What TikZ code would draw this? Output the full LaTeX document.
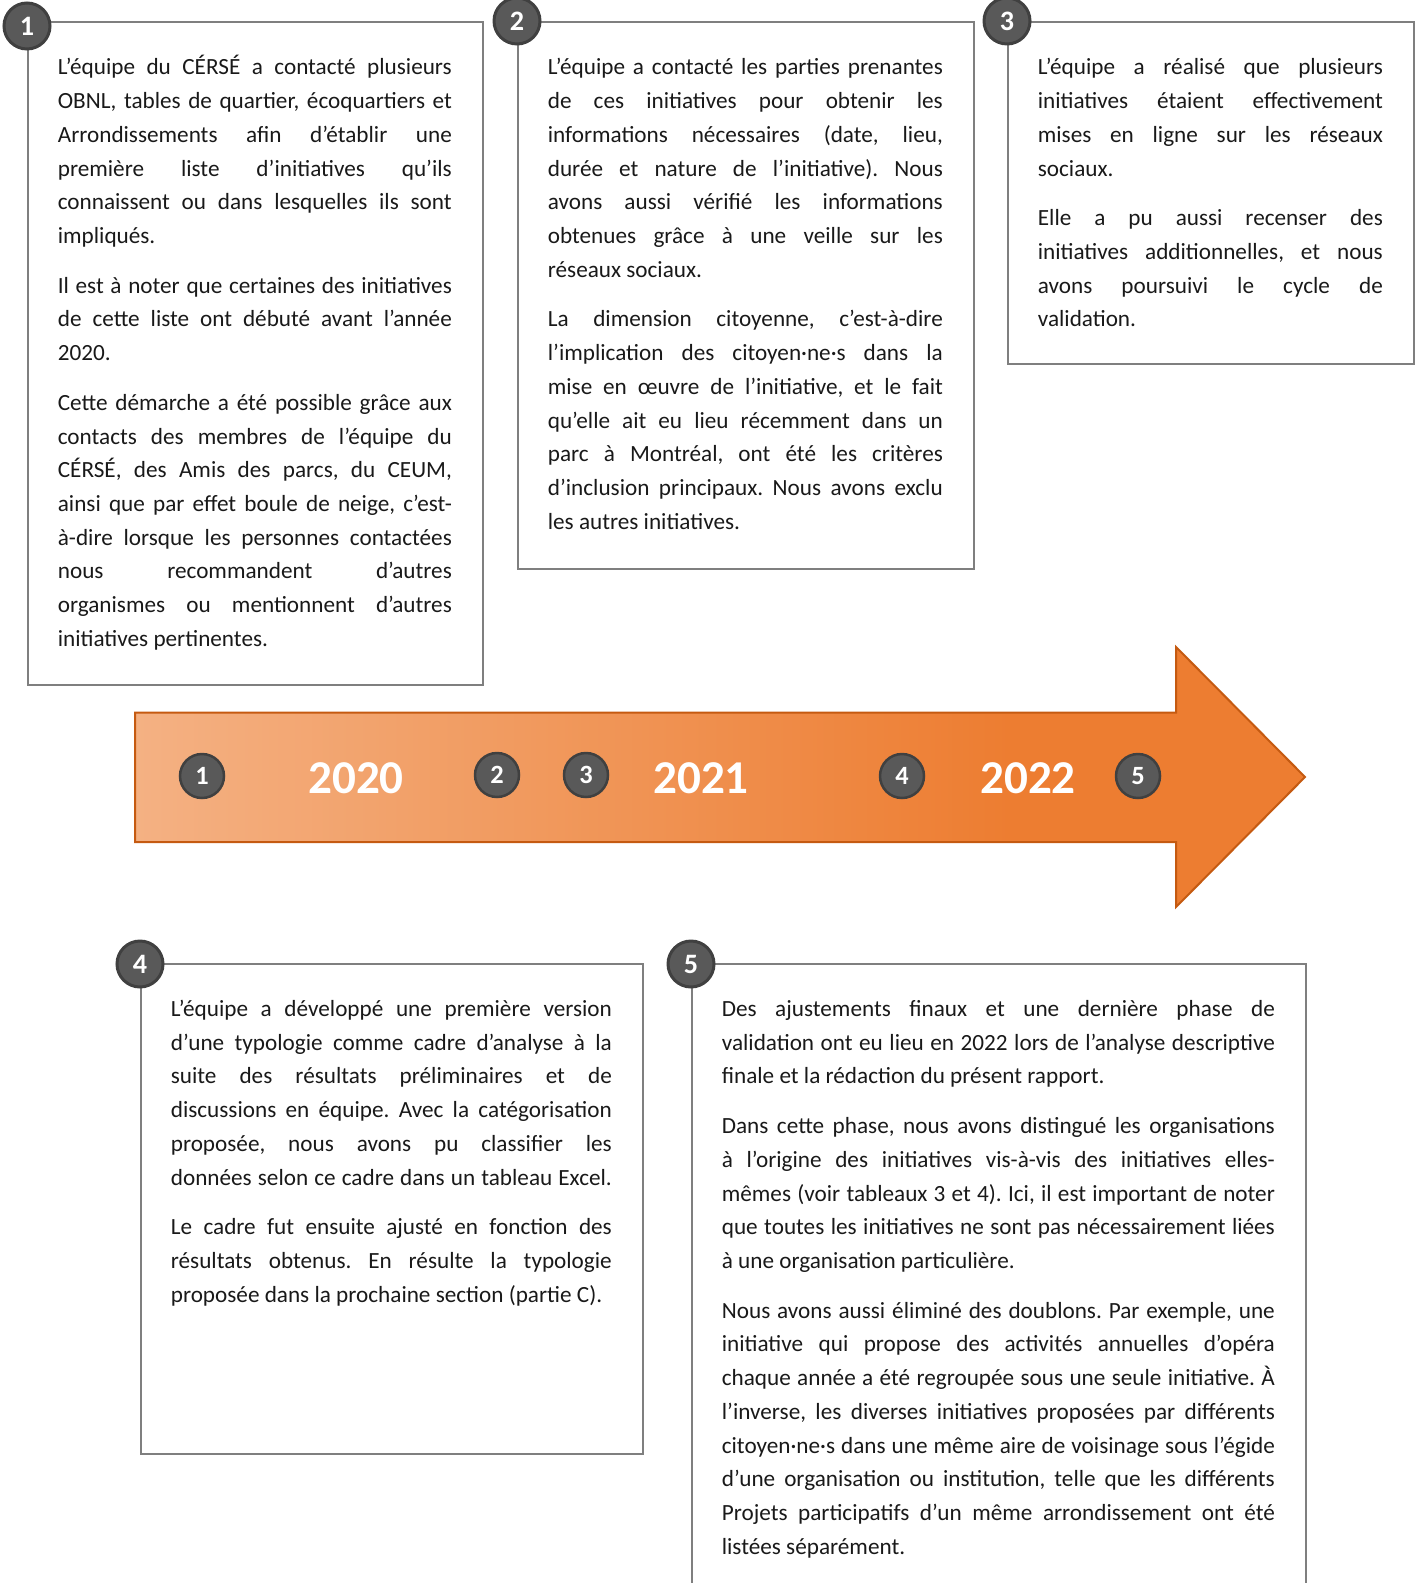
\documentclass[tikz,border=0pt]{standalone}
\usepackage{fontspec}
\setmainfont{Carlito}
\definecolor{boxgray}{HTML}{7F7F7F}
\definecolor{badgefill}{HTML}{595959}
\definecolor{badgeline}{HTML}{404040}
\definecolor{orangelight}{HTML}{F4B183}
\definecolor{orangemain}{HTML}{ED7D31}
\definecolor{orangedark}{HTML}{C55A11}
\newdimen\pxu \pxu=0.2mm
\tolerance=10000 \hbadness=10000 \hyphenpenalty=10000 \exhyphenpenalty=10000
\frenchspacing
\begin{document}
\begin{tikzpicture}[x=0.2mm,y=-0.2mm,
	frame/.style={draw=boxgray,line width=2\pxu,anchor=north west,inner sep=0pt},
	para/.style={anchor=base west,inner sep=0pt,align=justify,text=black!90,
		font=\fontsize{13.2pt}{19.2pt}\selectfont,
		execute at begin node={\setlength{\parskip}{9pt}}},
	badge/.style={circle,draw=badgeline,fill=badgefill,line width=3\pxu,minimum size=46\pxu,
		inner sep=0pt,text=white,font=\fontsize{16pt}{16pt}\selectfont\bfseries},
	dot/.style={badge,line width=2.5\pxu,minimum size=44\pxu,font=\fontsize{15pt}{15pt}\selectfont\bfseries},
	year/.style={text=white,inner sep=0pt,font=\fontsize{26.8pt}{28pt}\selectfont\bfseries}]
	\useasboundingbox (0,0) rectangle (1421,1583);
	\clip (0,0) rectangle (1421,1583);
	% timeline arrow
	\fill[orangemain] (135,712.5) -- (1176,712.5) -- (1176,647) -- (1305,777) -- (1176,907) -- (1176,842) -- (135,842) -- cycle;
	\shade[left color=orangelight,right color=orangemain] (135,712.5) rectangle (1010,842);
	\draw[orangedark,line width=2\pxu] (135,712.5) -- (1176,712.5) -- (1176,647) -- (1305,777) -- (1176,907) -- (1176,842) -- (135,842) -- cycle;
	\node[dot] (d1) at (202,776) {1};
	\node[dot] (d2) at (497,775) {2};
	\node[dot] (d3) at (586,775) {3};
	\node[dot] (d4) at (902,776) {4};
	\node[dot] (d5) at (1138,776) {5};
	\node[year] (y2020) at (356,778) {2020};
	\node[year] (y2021) at (701,778) {2021};
	\node[year] (y2022) at (1028,778) {2022};
	% frames
	\node[frame,minimum width=455\pxu,minimum height=663\pxu] (f1) at (27,21) {};
	\node[frame,minimum width=456\pxu,minimum height=547\pxu] (f2) at (517,21) {};
	\node[frame,minimum width=406\pxu,minimum height=342\pxu] (f3) at (1007,21) {};
	\node[frame,minimum width=502\pxu,minimum height=490\pxu] (f4) at (140,963) {};
	\node[frame,minimum width=614\pxu,minimum height=700\pxu] (f5) at (691,963) {};
	% texts
	\node[para,text width=394\pxu] (t1) at (57.5,75) {L’équipe du CÉRSÉ a contacté plusieurs\linebreak
		OBNL, tables de quartier, écoquartiers et\linebreak
		Arrondissements afin d’établir une\linebreak
		première liste d’initiatives qu’ils\linebreak
		connaissent ou dans lesquelles ils sont\linebreak
		impliqués.\par
		Il est à noter que certaines des initiatives\linebreak
		de cette liste ont débuté avant l’année\linebreak
		2020.\par
		Cette démarche a été possible grâce aux\linebreak
		contacts des membres de l’équipe du\linebreak
		CÉRSÉ, des Amis des parcs, du CEUM,\linebreak
		ainsi que par effet boule de neige, c’est-\linebreak
		à-dire lorsque les personnes contactées\linebreak
		nous recommandent d’autres\linebreak
		organismes ou mentionnent d’autres\linebreak
		initiatives pertinentes.};
	\node[para,text width=395\pxu] (t2) at (547.5,75) {L’équipe a contacté les parties prenantes\linebreak
		de ces initiatives pour obtenir les\linebreak
		informations nécessaires (date, lieu,\linebreak
		durée et nature de l’initiative). Nous\linebreak
		avons aussi vérifié les informations\linebreak
		obtenues grâce à une veille sur les\linebreak
		réseaux sociaux.\par
		La dimension citoyenne, c’est-à-dire\linebreak
		l’implication des citoyen·ne·s dans la\linebreak
		mise en œuvre de l’initiative, et le fait\linebreak
		qu’elle ait eu lieu récemment dans un\linebreak
		parc à Montréal, ont été les critères\linebreak
		d’inclusion principaux. Nous avons exclu\linebreak
		les autres initiatives.};
	\node[para,text width=345\pxu] (t3) at (1037.5,75) {L’équipe a réalisé que plusieurs\linebreak
		initiatives étaient effectivement\linebreak
		mises en ligne sur les réseaux\linebreak
		sociaux.\par
		Elle a pu aussi recenser des\linebreak
		initiatives additionnelles, et nous\linebreak
		avons poursuivi le cycle de\linebreak
		validation.};
	\node[para,text width=441\pxu] (t4) at (170.5,1016.5) {L’équipe a développé une première version\linebreak
		d’une typologie comme cadre d’analyse à la\linebreak
		suite des résultats préliminaires et de\linebreak
		discussions en équipe. Avec la catégorisation\linebreak
		proposée, nous avons pu classifier les\linebreak
		données selon ce cadre dans un tableau Excel.\parfillskip=0pt\relax\par
		\parfillskip=0pt plus 1fil\relax
		Le cadre fut ensuite ajusté en fonction des\linebreak
		résultats obtenus. En résulte la typologie\linebreak
		proposée dans la prochaine section (partie C).};
	\node[para,text width=553\pxu] (t5) at (721.5,1016.5) {Des ajustements finaux et une dernière phase de\linebreak
		validation ont eu lieu en 2022 lors de l’analyse descriptive\linebreak
		finale et la rédaction du présent rapport.\par
		Dans cette phase, nous avons distingué les organisations\linebreak
		à l’origine des initiatives vis-à-vis des initiatives elles-\linebreak
		mêmes (voir tableaux 3 et 4). Ici, il est important de noter\linebreak
		que toutes les initiatives ne sont pas nécessairement liées\linebreak
		à une organisation particulière.\par
		Nous avons aussi éliminé des doublons. Par exemple, une\linebreak
		initiative qui propose des activités annuelles d’opéra\linebreak
		chaque année a été regroupée sous une seule initiative. À\linebreak
		l’inverse, les diverses initiatives proposées par différents\linebreak
		citoyen·ne·s dans une même aire de voisinage sous l’égide\linebreak
		d’une organisation ou institution, telle que les différents\linebreak
		Projets participatifs d’un même arrondissement ont été\linebreak
		listées séparément.};
	% numbered badges
	\node[badge] (b1) at ([yshift=-5\pxu]f1.north west) {1};
	\node[badge] (b2) at (f2.north west) {2};
	\node[badge] (b3) at (f3.north west) {3};
	\node[badge] (b4) at ([yshift=-1\pxu]f4.north west) {4};
	\node[badge] (b5) at ([yshift=-1\pxu]f5.north west) {5};
\end{tikzpicture}
\end{document}
